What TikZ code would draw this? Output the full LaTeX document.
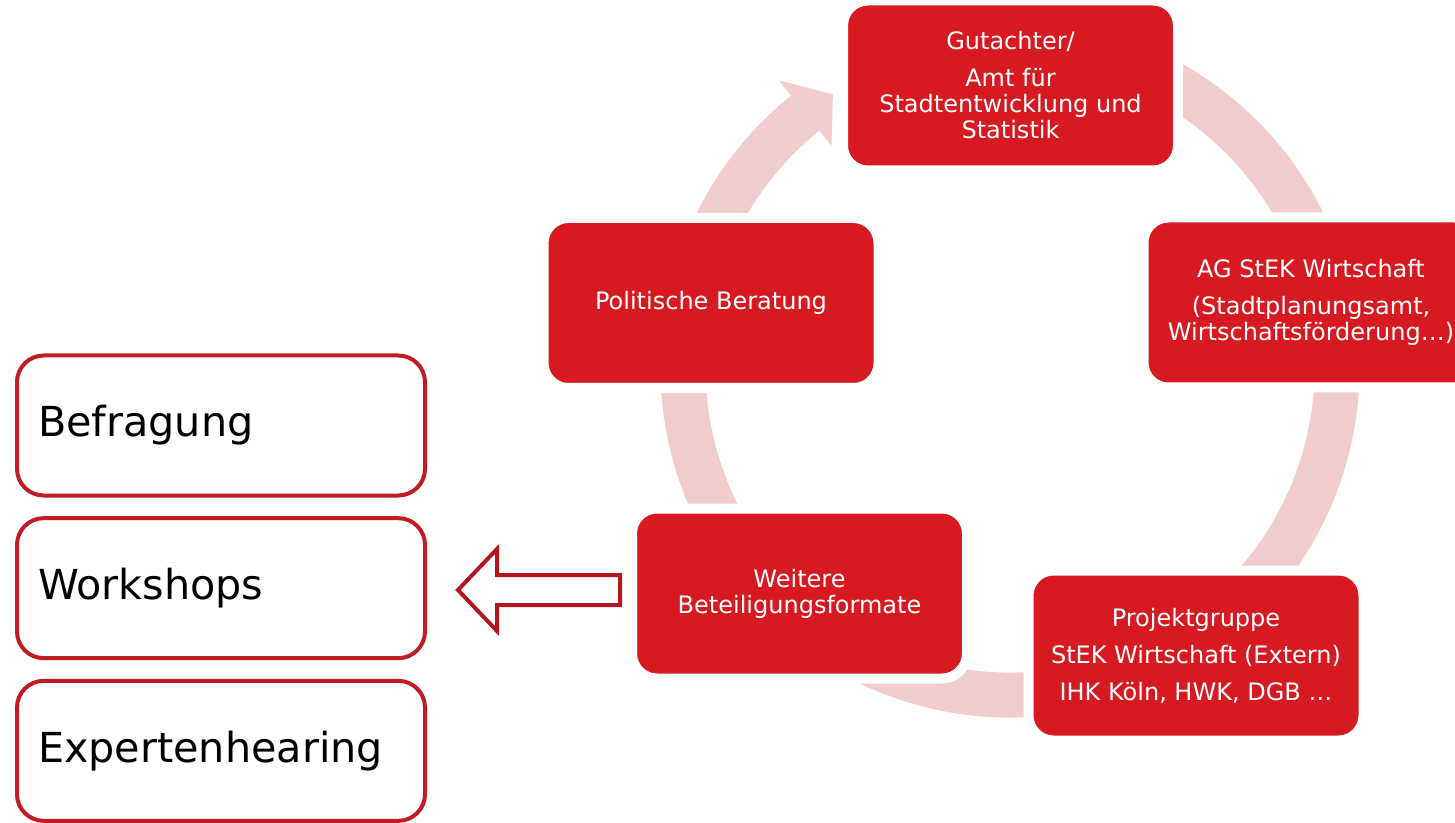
\documentclass[tikz,border=0pt]{standalone}
\usepackage{fontspec}
\setmainfont{DejaVu Sans}
\usepackage{xcolor}
\usepackage{tikz}
\usetikzlibrary{positioning}
\definecolor{stekred}{RGB}{215,25,34}
\definecolor{framered}{RGB}{192,28,36}
\definecolor{arrowred}{RGB}{180,22,32}
\definecolor{ringpink}{RGB}{240,204,204}
\tikzset{cycbox/.style={shape=rectangle,rounded corners=18.75pt,fill=stekred,draw=white,line width=7.5pt,minimum width=251.25pt,minimum height=127.5pt,inner sep=0pt,align=center,text=white,font=\fontsize{18}{19.5}\selectfont}}
\tikzset{listbox/.style={shape=rectangle,rounded corners=20pt,draw=framered,fill=white,line width=3pt,text width=274.5pt,minimum height=105pt,inner xsep=15.75pt,align=left,font=\fontsize{31}{36}\selectfont}}
\tikzset{ring/.style={draw=ringpink,line width=33.75pt}}
\tikzset{hollowarrow/.style={draw=arrowred,fill=white,line width=3pt,line join=miter}}

\begin{document}
\begin{tikzpicture}[x=0.75pt,y=0.75pt]
	\useasboundingbox (0,0) rectangle (1455,822);
	\coordinate (C) at (1010,454);
	%
	\draw[ring] (C) ++(110:327) arc[start angle=110,end angle=-231.4,radius=327];
	\fill[ringpink] ([shift={(128.8:369)}]C) -- ([shift={(122.9:326)}]C) -- ([shift={(128.8:285)}]C) -- cycle;
	%
	\node[cycbox] (gut) at (1010.5,736.5) {Gutachter/\\[8.25pt]Amt für\\Stadtentwicklung und\\Statistik};
	\node[cycbox] (ag) at (1311,519.5) {AG StEK Wirtschaft\\[8.25pt](Stadtplanungsamt,\\Wirtschaftsförderung…)};
	\node[cycbox] (proj) at (1196,166.5) {Projektgruppe\\[8.25pt]StEK Wirtschaft (Extern)\\[8.25pt]IHK Köln, HWK, DGB …};
	\node[cycbox] (weit) at (799.5,228.5) {Weitere\\Beteiligungsformate};
	\node[cycbox] (pol) at (711,519) {Politische Beratung};
	%
	\node[listbox] (bef) at (221,396.5) {Befragung};
	\node[listbox,below=14pt of bef] (work) {Workshops};
	\node[listbox,below=14pt of work] (exp) {Expertenhearing};
	%
	\draw[hollowarrow] (458,232) -- (497,273) -- (497,247) -- (620,247) -- (620,217) -- (497,217) -- (497,191) -- cycle;
\end{tikzpicture}
\end{document}
